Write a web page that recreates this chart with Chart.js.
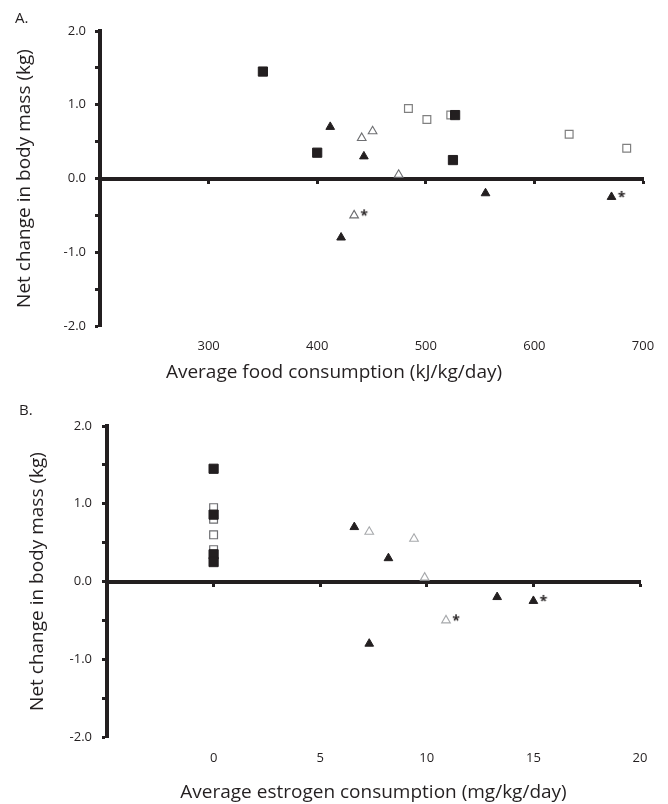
<!DOCTYPE html>
<html>
<head>
<meta charset="utf-8">
<script src="https://cdn.jsdelivr.net/npm/chart.js@4.4.1/dist/chart.umd.min.js"></script>
<style>
  body { margin: 0; width: 668px; height: 804px; background: #fff; overflow: hidden; position: relative; }
  .panel { position: absolute; font: 15px/15px 'Open Sans', sans-serif; color: #231f20; }
  canvas { position: absolute; left: 0; }
</style>
</head>
<body>
<canvas id="chartA" width="668" height="400" style="top:0"></canvas>
<canvas id="chartB" width="668" height="404" style="top:400px"></canvas>
<div class="panel" style="left:15px; top:10px">A.</div>
<div class="panel" style="left:19px; top:402px">B.</div>
<script>
// panel A: average food consumption (kJ/kg/day)
const foodFilledSq = [350, 400, 527, 525];
const foodOpenSq = [484, 501, 523, 632, 685];
const foodFilledTri = [412, 443, 422, 555, 671];
const foodOpenTri = [441, 451, 475, 434];

// panel B: average estrogen consumption (mg/kg/day)
const estFilledSq = [0, 0, 0, 0];
const estOpenSq = [0, 0, 0, 0, 0];
const estFilledTri = [6.6, 8.2, 7.3, 13.3, 15.0];
const estOpenTri = [9.4, 7.3, 9.9, 10.9];

// net change in body mass (kg), same animals in both panels
const massFilledSq = [1.45, 0.35, 0.86, 0.25];
const massOpenSq = [0.95, 0.80, 0.86, 0.60, 0.41];
const massFilledTri = [0.70, 0.30, -0.80, -0.20, -0.25];
const massOpenTri = [0.55, 0.64, 0.05, -0.50];

// points marked with an asterisk
const starFilledTri = [false, false, false, false, true];
const starOpenTri = [false, false, false, true];

// tick labels
const foodTicks = [300, 400, 500, 600, 700];
const estTicks = [0, 5, 10, 15, 20];
const massTicks = [-2, -1, 0, 1, 2];

const ink = '#231f20';
Chart.defaults.font.family = "'Open Sans', sans-serif";
Chart.defaults.color = ink;

function pts(xs, ys) {
  return xs.map((x, i) => ({ x: x, y: ys[i] }));
}

function starPts(xs, ys, flags) {
  return pts(xs, ys).filter((p, i) => flags[i]);
}

function starMark() {
  const c = document.createElement('canvas');
  c.width = 40;
  c.height = 24;
  const g = c.getContext('2d');
  g.fillStyle = ink;
  g.font = "bold 14px 'Open Sans'";
  g.textAlign = 'center';
  g.textBaseline = 'middle';
  g.fillText('*', 30, 13);
  return c;
}
const star = starMark();

function makeDatasets(xFs, xOs, xFt, xOt, openSqColor, openTriColor) {
  return [
    {
      data: pts(xFs, massFilledSq), pointStyle: 'rect', pointRadius: 6.5,
      backgroundColor: ink, borderColor: ink, borderWidth: 1
    },
    {
      data: pts(xOs, massOpenSq), pointStyle: 'rect', pointRadius: 5.5,
      backgroundColor: '#fff', borderColor: openSqColor, borderWidth: 1.2
    },
    {
      data: pts(xFt, massFilledTri), pointStyle: 'triangle', pointRadius: 5,
      backgroundColor: ink, borderColor: ink, borderWidth: 1
    },
    {
      data: pts(xOt, massOpenTri), pointStyle: 'triangle', pointRadius: 5,
      backgroundColor: '#fff', borderColor: openTriColor, borderWidth: 1.1
    },
    {
      data: starPts(xFt, massFilledTri, starFilledTri).concat(starPts(xOt, massOpenTri, starOpenTri)),
      pointStyle: star, pointRadius: 10, borderWidth: 0
    }
  ];
}

function yAxis(width, pad, titlePad) {
  return {
    type: 'linear', position: 'left', min: -2, max: 2,
    ticks: {
      stepSize: 0.5, padding: pad, font: { size: 13 }, color: ink,
      callback: (v) => massTicks.includes(v) ? v.toFixed(1) : ''
    },
    grid: { display: true, drawOnChartArea: false, drawTicks: true, tickLength: 5, tickWidth: 3, tickColor: ink },
    border: { display: true, width: 4, color: ink },
    title: {
      display: true, text: 'Net change in body mass (kg)', color: ink,
      font: { size: 19 }, padding: { top: titlePad, bottom: 0 }
    },
    afterFit: (s) => { s.width = width; }
  };
}

function zeroAxis(min, max, step) {
  return {
    type: 'linear', position: { y: 0 }, min: min, max: max,
    ticks: { display: false, stepSize: step },
    grid: { display: true, drawOnChartArea: false, drawTicks: true, tickLength: 3, tickWidth: 3, tickColor: ink },
    border: { display: true, width: 4, color: ink },
    afterFit: (s) => { s.height = 0; }
  };
}

function labelAxis(min, max, step, labels, pad, height, title) {
  return {
    type: 'linear', position: 'bottom', min: min, max: max,
    ticks: {
      stepSize: step, padding: pad, font: { size: 13 }, color: ink, maxRotation: 0, autoSkip: false,
      callback: (v) => labels.includes(v) ? String(v) : ''
    },
    grid: { display: false, drawTicks: false },
    border: { display: false },
    title: title,
    afterFit: (s) => { s.height = height; }
  };
}

const chartA = new Chart(document.getElementById('chartA'), {
  type: 'scatter',
  data: {
    datasets: makeDatasets(foodFilledSq, foodOpenSq, foodFilledTri, foodOpenTri, '#808080', '#6d6e71')
  },
  options: {
    responsive: false,
    animation: false,
    layout: { padding: { top: 31, left: 0, right: 0, bottom: 0 } },
    scales: {
      x: zeroAxis(200, 700, 100),
      xb: labelAxis(200, 700, 100, foodTicks, 12, 35.6, { display: false }),
      y: yAxis(100, 9, 13),
      yr: {
        type: 'linear', position: 'right', display: true,
        ticks: { display: false }, grid: { display: false }, border: { display: false },
        afterFit: (s) => { s.width = 25; }
      }
    },
    plugins: {
      legend: { display: false },
      tooltip: { enabled: false },
      title: {
        display: true, position: 'bottom', fullSize: true,
        text: 'Average food consumption (kJ/kg/day)', color: ink,
        font: { size: 19, weight: 'normal' }, padding: { top: 0, bottom: 15.6 }
      }
    }
  }
});

const chartB = new Chart(document.getElementById('chartB'), {
  type: 'scatter',
  data: {
    datasets: makeDatasets(estFilledSq, estOpenSq, estFilledTri, estOpenTri, '#6d6e71', '#a7a9ac')
  },
  options: {
    responsive: false,
    animation: false,
    layout: { padding: { top: 26, left: 0, right: 28, bottom: 0 } },
    scales: {
      x: zeroAxis(-5, 20, 5),
      xb: labelAxis(-5, 20, 5, estTicks, 13, 67, {
        display: true, text: 'Average estrogen consumption (mg/kg/day)', color: ink,
        font: { size: 19 }, padding: { top: 0, bottom: 0 }
      }),
      y: yAxis(107, 10, 26)
    },
    plugins: {
      legend: { display: false },
      tooltip: { enabled: false }
    }
  }
});
</script>
</body>
</html>
